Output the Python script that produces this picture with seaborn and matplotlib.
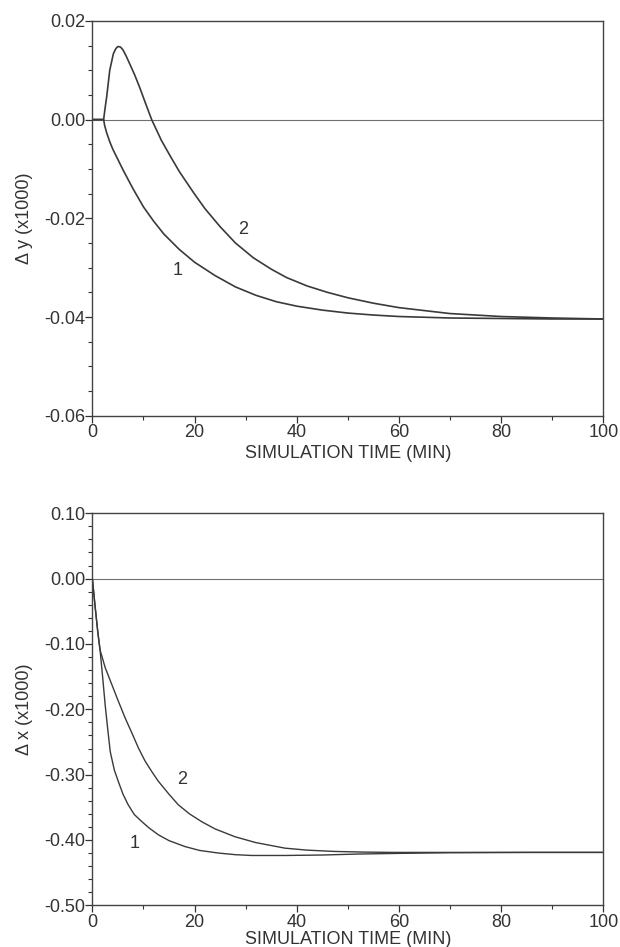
import numpy as np
import matplotlib
matplotlib.use("Agg")
import matplotlib.pyplot as plt
from matplotlib.ticker import MultipleLocator, FormatStrFormatter
import seaborn as sns

sns.set_style("ticks")
plt.rcParams['font.family'] = ['Liberation Sans', 'DejaVu Sans']

# top panel: delta y, curves 1 and 2
t_y1 = [0, 2.2, 2.4, 2.8, 3.4, 4, 5, 6, 8, 10, 12, 14, 17, 20, 24, 28, 32, 36, 40, 45,
        50, 55, 60, 70, 80, 90, 100]
dy_1 = [0, 0, -0.0012, -0.0027, -0.0045, -0.0060, -0.0081, -0.0102, -0.0141, -0.0177,
        -0.0206, -0.0232, -0.0263, -0.0289, -0.0316, -0.0339, -0.0356, -0.0369, -0.0378,
        -0.0386, -0.0392, -0.0396, -0.0399, -0.0402, -0.0403, -0.0404, -0.0404]

t_y2 = [0, 2.2, 2.5, 2.8, 3.4, 4.1, 4.6, 5.0, 5.5, 6.0, 6.6, 7.3, 8.3, 9.3, 10.4, 11.6,
        13.5, 15.3, 17, 19.8, 22, 25, 28, 31.5, 35, 38, 42, 46, 50, 55, 60, 70, 80, 90, 100]
dy_2 = [0, 0, 0.0024, 0.0046, 0.0100, 0.0133, 0.0144, 0.0148, 0.0147, 0.0141, 0.0129,
        0.0113, 0.0090, 0.0064, 0.0033, 0.0, -0.0042, -0.0075, -0.0105, -0.0148, -0.0180,
        -0.0217, -0.0250, -0.0280, -0.0303, -0.0320, -0.0337, -0.0350, -0.0361, -0.0372,
        -0.0381, -0.0393, -0.0399, -0.0402, -0.0404]

# bottom panel: delta x, curves 1 and 2
t_x1 = [0, 0.5, 1.05, 1.5, 2.0, 2.5, 3.0, 3.5, 4.3, 5.1, 6, 7.0, 8.2, 9.7, 11, 12.9,
        15, 18.1, 21, 24.7, 28, 31.2, 37.7, 45, 52, 60, 70, 85, 100]
dx_1 = [0, -0.04, -0.081, -0.109, -0.150, -0.193, -0.230, -0.265, -0.293, -0.311,
        -0.330, -0.346, -0.361, -0.372, -0.381, -0.392, -0.401, -0.410, -0.416, -0.420,
        -0.4225, -0.4237, -0.4237, -0.423, -0.4215, -0.4205, -0.4195, -0.419, -0.419]

t_x2 = [0, 0.5, 1.05, 1.5, 2.5, 3.8, 5, 6.4, 8, 9.0, 10.3, 11.6, 12.9, 15, 16.8, 19,
        21.4, 24, 27.9, 32, 37.7, 42, 47.3, 53, 59, 70, 85, 100]
dx_2 = [0, -0.04, -0.081, -0.109, -0.136, -0.162, -0.186, -0.213, -0.241, -0.259,
        -0.279, -0.295, -0.310, -0.330, -0.346, -0.360, -0.372, -0.383, -0.395, -0.404,
        -0.4125, -0.4155, -0.4175, -0.4185, -0.419, -0.419, -0.419, -0.419]

line_col = '#3a3a3a'
text_col = '#333333'
fs = 13

fig = plt.figure(figsize=(6.2, 9.47), dpi=100)
ax1 = fig.add_axes([0.149, 0.561, 0.824, 0.417])
ax2 = fig.add_axes([0.149, 0.044, 0.824, 0.414])


def style_axis(ax, ymin, ymax, ymaj, ymin_step, ylabel, xpad):
    ax.axhline(0, color='#707070', lw=0.8, zorder=1)
    ax.set_xlim(0, 100)
    ax.set_ylim(ymin, ymax)
    ax.xaxis.set_major_locator(MultipleLocator(20))
    ax.xaxis.set_minor_locator(MultipleLocator(10))
    ax.yaxis.set_major_locator(MultipleLocator(ymaj))
    ax.yaxis.set_minor_locator(MultipleLocator(ymin_step))
    ax.yaxis.set_major_formatter(FormatStrFormatter('%.2f'))
    ax.tick_params(which='both', direction='out', colors=text_col, labelsize=fs,
                   top=False, right=False)
    ax.tick_params(which='major', length=5, width=0.9)
    ax.tick_params(axis='y', which='major', pad=0)
    ax.tick_params(axis='x', which='major', pad=1)
    ax.tick_params(which='minor', length=3, width=0.8)
    for s in ax.spines.values():
        s.set_visible(True)
        s.set_color('#444444')
        s.set_linewidth(1.0)
    ax.set_xlabel('SIMULATION TIME (MIN)', fontsize=fs, color=text_col, labelpad=xpad)
    ax.set_ylabel(ylabel, fontsize=fs, color=text_col, labelpad=8)


sns.lineplot(x=t_y1, y=dy_1, ax=ax1, color=line_col, lw=1.2, estimator=None, sort=False)
sns.lineplot(x=t_y2, y=dy_2, ax=ax1, color=line_col, lw=1.2, estimator=None, sort=False)
style_axis(ax1, -0.06, 0.02, 0.02, 0.005, '\u0394 y (x1000)', 3)
ax1.text(29.6, -0.0222, '2', fontsize=fs, color=text_col, ha='center', va='center')
ax1.text(16.6, -0.0306, '1', fontsize=fs, color=text_col, ha='center', va='center')

sns.lineplot(x=t_x1, y=dx_1, ax=ax2, color=line_col, lw=1.0, estimator=None, sort=False)
sns.lineplot(x=t_x2, y=dx_2, ax=ax2, color=line_col, lw=1.0, estimator=None, sort=False)
style_axis(ax2, -0.50, 0.10, 0.10, 0.02, '\u0394 x (x1000)', 0)
ax2.text(17.5, -0.308, '2', fontsize=fs, color=text_col, ha='center', va='center')
ax2.text(8.2, -0.405, '1', fontsize=fs, color=text_col, ha='center', va='center')

fig.savefig('out.png', dpi=100, facecolor='white')
